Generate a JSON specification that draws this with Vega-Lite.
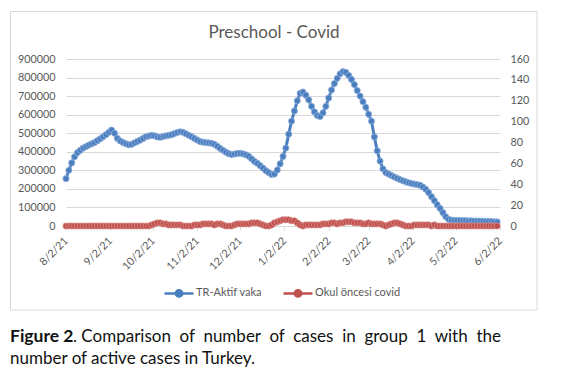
{
  "$schema": "https://vega.github.io/schema/vega-lite/v6.json",
  "width": 434,
  "height": 167,
  "autosize": {"type": "none"},
  "padding": {"left": 66, "top": 59, "right": 63, "bottom": 158},
  "background": "white",
  "config": {
    "view": {"stroke": null},
    "font": "Lato",
    "axis": {"labelFont": "Lato", "labelColor": "#595959", "labelFontSize": 10.8, "title": null}
  },
  "datasets": {
    "main": [
      {"d": "2021-08-02", "a": 255000, "b": 0},
      {"d": "2021-08-04", "a": 300000, "b": 0},
      {"d": "2021-08-06", "a": 340000, "b": 0},
      {"d": "2021-08-08", "a": 373000, "b": 0},
      {"d": "2021-08-10", "a": 395000, "b": 0},
      {"d": "2021-08-12", "a": 408000, "b": 0},
      {"d": "2021-08-14", "a": 420000, "b": 0},
      {"d": "2021-08-16", "a": 428000, "b": 0},
      {"d": "2021-08-18", "a": 436000, "b": 0},
      {"d": "2021-08-20", "a": 443000, "b": 0},
      {"d": "2021-08-22", "a": 450000, "b": 0},
      {"d": "2021-08-24", "a": 460000, "b": 0},
      {"d": "2021-08-26", "a": 470000, "b": 0},
      {"d": "2021-08-28", "a": 481000, "b": 0},
      {"d": "2021-08-30", "a": 492000, "b": 0},
      {"d": "2021-09-01", "a": 505000, "b": 0},
      {"d": "2021-09-03", "a": 517000, "b": 0},
      {"d": "2021-09-05", "a": 500000, "b": 0},
      {"d": "2021-09-07", "a": 472000, "b": 0},
      {"d": "2021-09-09", "a": 458000, "b": 0},
      {"d": "2021-09-11", "a": 450000, "b": 0},
      {"d": "2021-09-13", "a": 443000, "b": 0},
      {"d": "2021-09-15", "a": 438000, "b": 0},
      {"d": "2021-09-17", "a": 440000, "b": 0},
      {"d": "2021-09-19", "a": 448000, "b": 0},
      {"d": "2021-09-21", "a": 456000, "b": 0},
      {"d": "2021-09-23", "a": 463000, "b": 0},
      {"d": "2021-09-25", "a": 472000, "b": 0},
      {"d": "2021-09-27", "a": 481000, "b": 0},
      {"d": "2021-09-29", "a": 485000, "b": 0},
      {"d": "2021-10-01", "a": 488000, "b": 1},
      {"d": "2021-10-03", "a": 486000, "b": 2},
      {"d": "2021-10-05", "a": 480000, "b": 3},
      {"d": "2021-10-07", "a": 478000, "b": 3},
      {"d": "2021-10-09", "a": 482000, "b": 2},
      {"d": "2021-10-11", "a": 486000, "b": 2},
      {"d": "2021-10-13", "a": 489000, "b": 1},
      {"d": "2021-10-15", "a": 492000, "b": 1},
      {"d": "2021-10-17", "a": 498000, "b": 1},
      {"d": "2021-10-19", "a": 504000, "b": 1},
      {"d": "2021-10-21", "a": 508000, "b": 1},
      {"d": "2021-10-23", "a": 505000, "b": 0},
      {"d": "2021-10-25", "a": 497000, "b": 0},
      {"d": "2021-10-27", "a": 489000, "b": 0},
      {"d": "2021-10-29", "a": 481000, "b": 0},
      {"d": "2021-10-31", "a": 472000, "b": 1},
      {"d": "2021-11-02", "a": 463000, "b": 1},
      {"d": "2021-11-04", "a": 455000, "b": 1},
      {"d": "2021-11-06", "a": 452000, "b": 2},
      {"d": "2021-11-08", "a": 450000, "b": 2},
      {"d": "2021-11-10", "a": 448000, "b": 2},
      {"d": "2021-11-12", "a": 446000, "b": 2},
      {"d": "2021-11-14", "a": 440000, "b": 1},
      {"d": "2021-11-16", "a": 430000, "b": 2},
      {"d": "2021-11-18", "a": 418000, "b": 2},
      {"d": "2021-11-20", "a": 408000, "b": 1},
      {"d": "2021-11-22", "a": 398000, "b": 0},
      {"d": "2021-11-24", "a": 390000, "b": 0},
      {"d": "2021-11-26", "a": 385000, "b": 0},
      {"d": "2021-11-28", "a": 388000, "b": 1},
      {"d": "2021-11-30", "a": 391000, "b": 2},
      {"d": "2021-12-02", "a": 392000, "b": 2},
      {"d": "2021-12-04", "a": 389000, "b": 2},
      {"d": "2021-12-06", "a": 384000, "b": 2},
      {"d": "2021-12-08", "a": 376000, "b": 2},
      {"d": "2021-12-10", "a": 362000, "b": 3},
      {"d": "2021-12-12", "a": 348000, "b": 3},
      {"d": "2021-12-14", "a": 338000, "b": 3},
      {"d": "2021-12-16", "a": 325000, "b": 2},
      {"d": "2021-12-18", "a": 312000, "b": 1},
      {"d": "2021-12-20", "a": 298000, "b": 0},
      {"d": "2021-12-22", "a": 288000, "b": 0},
      {"d": "2021-12-24", "a": 278000, "b": 1},
      {"d": "2021-12-26", "a": 280000, "b": 3},
      {"d": "2021-12-28", "a": 302000, "b": 4},
      {"d": "2021-12-30", "a": 335000, "b": 5},
      {"d": "2022-01-01", "a": 375000, "b": 6},
      {"d": "2022-01-03", "a": 420000, "b": 6},
      {"d": "2022-01-05", "a": 495000, "b": 6},
      {"d": "2022-01-07", "a": 565000, "b": 5},
      {"d": "2022-01-09", "a": 620000, "b": 5},
      {"d": "2022-01-11", "a": 675000, "b": 3},
      {"d": "2022-01-13", "a": 715000, "b": 1},
      {"d": "2022-01-15", "a": 722000, "b": 0},
      {"d": "2022-01-17", "a": 705000, "b": 1},
      {"d": "2022-01-19", "a": 680000, "b": 1},
      {"d": "2022-01-21", "a": 645000, "b": 1},
      {"d": "2022-01-23", "a": 615000, "b": 1},
      {"d": "2022-01-25", "a": 595000, "b": 1},
      {"d": "2022-01-27", "a": 590000, "b": 1},
      {"d": "2022-01-29", "a": 610000, "b": 2},
      {"d": "2022-01-31", "a": 645000, "b": 2},
      {"d": "2022-02-02", "a": 690000, "b": 2},
      {"d": "2022-02-04", "a": 733000, "b": 3},
      {"d": "2022-02-06", "a": 768000, "b": 3},
      {"d": "2022-02-08", "a": 796000, "b": 2},
      {"d": "2022-02-10", "a": 820000, "b": 3},
      {"d": "2022-02-12", "a": 832000, "b": 3},
      {"d": "2022-02-14", "a": 828000, "b": 4},
      {"d": "2022-02-16", "a": 812000, "b": 4},
      {"d": "2022-02-18", "a": 790000, "b": 4},
      {"d": "2022-02-20", "a": 762000, "b": 3},
      {"d": "2022-02-22", "a": 730000, "b": 3},
      {"d": "2022-02-24", "a": 700000, "b": 3},
      {"d": "2022-02-26", "a": 670000, "b": 2},
      {"d": "2022-02-28", "a": 640000, "b": 2},
      {"d": "2022-03-02", "a": 602000, "b": 3},
      {"d": "2022-03-04", "a": 565000, "b": 2},
      {"d": "2022-03-06", "a": 480000, "b": 2},
      {"d": "2022-03-08", "a": 405000, "b": 2},
      {"d": "2022-03-10", "a": 350000, "b": 2},
      {"d": "2022-03-12", "a": 308000, "b": 1},
      {"d": "2022-03-14", "a": 288000, "b": 0},
      {"d": "2022-03-16", "a": 280000, "b": 1},
      {"d": "2022-03-18", "a": 272000, "b": 2},
      {"d": "2022-03-20", "a": 264000, "b": 3},
      {"d": "2022-03-22", "a": 257000, "b": 3},
      {"d": "2022-03-24", "a": 250000, "b": 2},
      {"d": "2022-03-26", "a": 244000, "b": 1},
      {"d": "2022-03-28", "a": 238000, "b": 0},
      {"d": "2022-03-30", "a": 233000, "b": 0},
      {"d": "2022-04-01", "a": 229000, "b": 0},
      {"d": "2022-04-03", "a": 226000, "b": 1},
      {"d": "2022-04-05", "a": 223000, "b": 1},
      {"d": "2022-04-07", "a": 220000, "b": 1},
      {"d": "2022-04-09", "a": 210000, "b": 1},
      {"d": "2022-04-11", "a": 198000, "b": 1},
      {"d": "2022-04-13", "a": 180000, "b": 1},
      {"d": "2022-04-15", "a": 158000, "b": 0},
      {"d": "2022-04-17", "a": 137000, "b": 1},
      {"d": "2022-04-19", "a": 115000, "b": 0},
      {"d": "2022-04-21", "a": 95000, "b": 0},
      {"d": "2022-04-23", "a": 72000, "b": 0},
      {"d": "2022-04-25", "a": 50000, "b": 0},
      {"d": "2022-04-27", "a": 36000, "b": 0},
      {"d": "2022-04-29", "a": 32000, "b": 0},
      {"d": "2022-05-01", "a": 31000, "b": 0},
      {"d": "2022-05-03", "a": 30000, "b": 0},
      {"d": "2022-05-05", "a": 30000, "b": 0},
      {"d": "2022-05-07", "a": 29000, "b": 0},
      {"d": "2022-05-09", "a": 29000, "b": 0},
      {"d": "2022-05-11", "a": 28000, "b": 0},
      {"d": "2022-05-13", "a": 28000, "b": 0},
      {"d": "2022-05-15", "a": 27000, "b": 0},
      {"d": "2022-05-17", "a": 27000, "b": 0},
      {"d": "2022-05-19", "a": 26000, "b": 0},
      {"d": "2022-05-21", "a": 26000, "b": 0},
      {"d": "2022-05-23", "a": 25000, "b": 0},
      {"d": "2022-05-25", "a": 25000, "b": 0},
      {"d": "2022-05-27", "a": 24000, "b": 0},
      {"d": "2022-05-29", "a": 23000, "b": 0},
      {"d": "2022-05-31", "a": 22000, "b": 0}
    ]
  },
  "layer": [
    {
      "data": {"values": [{}]},
      "mark": {"type": "rect", "fill": null, "stroke": "#d9d9d9", "strokeWidth": 1},
      "encoding": {
        "x": {"value": -55.5},
        "x2": {"value": 471},
        "y": {"value": -47.5},
        "y2": {"value": 251}
      }
    },
    {
      "data": {"values": [{}]},
      "mark": {"type": "text", "align": "center", "baseline": "alphabetic", "fontSize": 17, "color": "#595959", "font": "Lato"},
      "encoding": {
        "x": {"value": 208},
        "y": {"value": -21},
        "text": {"value": "Preschool - Covid"}
      }
    },
    {
      "data": {"values": [{}]},
      "mark": {"type": "text", "align": "left", "baseline": "alphabetic", "fontSize": 17.5, "fontWeight": "bold", "color": "#111111", "font": "Lato"},
      "encoding": {
        "x": {"value": -56},
        "y": {"value": 283},
        "text": {"value": "Figure 2"}
      }
    },
    {
      "data": {"values": [{}]},
      "mark": {"type": "text", "align": "left", "baseline": "alphabetic", "fontSize": 17, "color": "#111111", "font": "Lato"},
      "encoding": {
        "x": {"value": 7},
        "y": {"value": 283},
        "text": {"value": ". Comparison\u00a0 of\u00a0 number\u00a0 of\u00a0 cases\u00a0 in\u00a0 group\u00a0 1\u00a0 with\u00a0 the"}
      }
    },
    {
      "data": {"values": [{}]},
      "mark": {"type": "text", "align": "left", "baseline": "alphabetic", "fontSize": 17, "color": "#111111", "font": "Lato"},
      "encoding": {
        "x": {"value": -56},
        "y": {"value": 304.5},
        "text": {"value": "number of active cases in Turkey."}
      }
    },
    {
      "data": {"name": "main"},
      "mark": {
        "type": "line",
        "strokeWidth": 3,
        "point": {"filled": true, "size": 38, "stroke": "#8fb0dc", "strokeWidth": 0.8}
      },
      "encoding": {
        "x": {
          "field": "d", "type": "temporal",
          "scale": {"domain": [{"year": 2021, "month": 8, "date": 2, "utc": true}, {"year": 2022, "month": 6, "date": 2, "utc": true}], "nice": false},
          "axis": {
            "values": [
              {"year": 2021, "month": 8, "date": 2, "utc": true},
              {"year": 2021, "month": 9, "date": 2, "utc": true},
              {"year": 2021, "month": 10, "date": 2, "utc": true},
              {"year": 2021, "month": 11, "date": 2, "utc": true},
              {"year": 2021, "month": 12, "date": 2, "utc": true},
              {"year": 2022, "month": 1, "date": 2, "utc": true},
              {"year": 2022, "month": 2, "date": 2, "utc": true},
              {"year": 2022, "month": 3, "date": 2, "utc": true},
              {"year": 2022, "month": 4, "date": 2, "utc": true},
              {"year": 2022, "month": 5, "date": 2, "utc": true},
              {"year": 2022, "month": 6, "date": 2, "utc": true}
            ],
            "labelExpr": "utcFormat(datum.value, '%-m/%-d/%y')",
            "labelAngle": -45,
            "labelAlign": "right",
            "labelBaseline": "middle",
            "labelPadding": 9,
            "tickSize": 4,
            "tickColor": "#d9d9d9",
            "domainColor": "#d9d9d9",
            "grid": false,
            "labelOverlap": false,
            "labelBound": false,
            "labelFlush": false
          }
        },
        "y": {
          "field": "a", "type": "quantitative",
          "scale": {"domain": [0, 900000], "nice": false},
          "axis": {
            "orient": "left",
            "values": [0, 100000, 200000, 300000, 400000, 500000, 600000, 700000, 800000, 900000],
            "format": "d",
            "ticks": false,
            "domain": false,
            "grid": true,
            "gridColor": "#d9d9d9",
            "labelPadding": 11
          }
        },
        "color": {
          "datum": "TR-Aktif vaka",
          "type": "nominal",
          "scale": {"domain": ["TR-Aktif vaka", "Okul öncesi covid"], "range": ["#4a7ebf", "#c0504d"]},
          "legend": {
            "title": null,
            "orient": "none",
            "direction": "horizontal",
            "legendX": 97,
            "legendY": 218,
            "padding": 0,
            "symbolType": "M-1,0H1M-0.22,0A0.22,0.22 0 1,1 0.22,0A0.22,0.22 0 1,1 -0.22,0Z",
            "symbolSize": 841,
            "symbolStrokeWidth": 2.5,
            "labelFont": "Lato",
            "labelFontSize": 11,
            "labelColor": "#595959",
            "labelOffset": 1,
            "columnPadding": 15,
            "encode": {
              "symbols": {
                "update": {
                  "fill": {"scale": "color", "field": "value"},
                  "stroke": {"scale": "color", "field": "value"},
                  "strokeWidth": {"value": 2.5}
                }
              }
            }
          }
        }
      }
    },
    {
      "data": {"name": "main"},
      "mark": {
        "type": "line",
        "strokeWidth": 3,
        "point": {"filled": true, "size": 38, "stroke": "#d88a88", "strokeWidth": 0.8}
      },
      "encoding": {
        "x": {"field": "d", "type": "temporal"},
        "y": {
          "field": "b", "type": "quantitative",
          "scale": {"domain": [0, 160], "nice": false},
          "axis": {
            "orient": "right",
            "values": [0, 20, 40, 60, 80, 100, 120, 140, 160],
            "ticks": false,
            "domain": false,
            "grid": false,
            "labelPadding": 10
          }
        },
        "color": {"datum": "Okul öncesi covid", "type": "nominal"}
      }
    }
  ],
  "resolve": {"scale": {"y": "independent"}}
}
